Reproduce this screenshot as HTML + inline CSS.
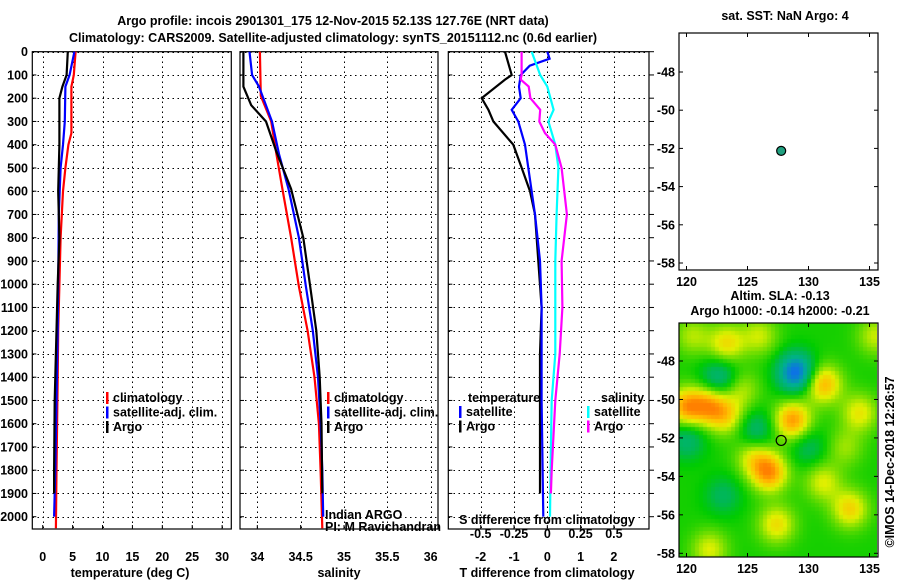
<!DOCTYPE html>
<html><head><meta charset="utf-8"><style>
body{margin:0;background:#fff;width:900px;height:580px;overflow:hidden;font-family:"Liberation Sans",Arial,sans-serif}
svg{position:absolute;left:0;top:0}
text{font-family:"Liberation Sans",Arial,sans-serif;font-weight:bold;font-size:12.5px;fill:#000}
#hm{position:absolute;left:679px;top:323px}
</style></head><body>
<canvas id="hm" width="198" height="234"></canvas>
<svg id="s" width="900" height="580"></svg>
<script>
// ---------- data ----------
const depthTicks=[0,100,200,300,400,500,600,700,800,900,1000,1100,1200,1300,1400,1500,1600,1700,1800,1900,2000];
const tTicks=[0,5,10,15,20,25,30];
const sTicks=[34,34.5,35,35.5,36];
const dTicks=[-2,-1,0,1,2];
const dsTicks=[-0.5,-0.25,0,0.25,0.5];
const tClimD=[0,100,150,300,350,400,500,600,700,800,1000,1200,1400,1600,1800,2050];
const tClimV=[5.5,5.2,4.8,4.8,4.8,4.3,3.8,3.4,3.2,3.0,2.8,2.6,2.5,2.4,2.3,2.2];
const tSatD=[0,100,150,300,400,500,700,1000,1200,1500,1800,2000];
const tSatV=[5.3,4.5,3.8,3.7,3.4,3.0,2.7,2.6,2.5,2.3,2.1,1.9];
const tArgoD=[0,100,150,200,400,600,800,1000,1200,1500,1800,1900];
const tArgoV=[4.2,4.0,3.3,2.8,2.8,2.6,2.8,2.5,2.3,2.0,1.9,1.9];
const sClimD=[0,190,300,440,590,800,1010,1200,1400,1600,1800,2050];
const sClimV=[34.03,34.04,34.16,34.22,34.29,34.39,34.48,34.58,34.66,34.71,34.73,34.75];
const sSatD=[0,100,150,300,440,590,800,1010,1200,1400,1600,1800,2000];
const sSatV=[33.91,33.94,34.02,34.17,34.25,34.36,34.48,34.56,34.64,34.7,34.73,34.75,34.76];
const sArgoD=[0,150,230,300,430,590,800,1010,1200,1400,1600,1900];
const sArgoV=[33.84,33.84,33.93,34.1,34.22,34.39,34.53,34.61,34.68,34.72,34.74,34.75];
const dTArgoD=[0,100,120,200,250,300,400,500,600,700,900,1100,1300,1500,1800,1900];
const dTArgoV=[-1.27,-1.07,-1.27,-1.97,-1.77,-1.62,-1.02,-0.77,-0.52,-0.37,-0.27,-0.17,-0.22,-0.22,-0.22,-0.22];
const dTSatD=[0,30,60,100,150,200,250,300,400,500,700,900,1100,1500,2000];
const dTSatV=[0,0.07,-0.53,-0.8,-0.85,-0.8,-1.07,-0.87,-0.67,-0.57,-0.37,-0.22,-0.17,-0.17,-0.12];
const dSSatD=[0,100,150,250,300,400,500,700,900,1100,1300,1500,1700,2000];
const dSSatV=[-0.117,-0.053,0,0.047,0.008,0.06,0.083,0.07,0.06,0.06,0.06,0.033,0.027,0.02];
const dSArgoD=[0,100,120,150,200,250,300,350,400,500,700,900,1100,1300,1500,1800,1900];
const dSArgoV=[-0.193,-0.193,-0.2,-0.14,-0.127,-0.053,-0.06,-0.017,0.06,0.107,0.147,0.107,0.113,0.093,0.06,0.033,0.027];
const latTicks=[-48,-50,-52,-54,-56,-58];
const lonTicks=[120,125,130,135];
const argoLon=[127.76], argoLat=[-52.13];
const blobLon=[123.3,120,121.9,123.3,129,122.7,128.7,131.2,126.8,125.5,133.4,134.2,135.5,126,120,125.7,127.4,121.9,131.2,120.5,123,130,133,124.5];
const blobLat=[-47.1,-50.4,-50.3,-50.9,-48.6,-48.9,-51.1,-49.2,-53.8,-53,-55.7,-50.7,-46.7,-46.7,-52.1,-51.6,-56.5,-57.8,-54.3,-46.7,-55,-52.5,-52.5,-49.5];
const blobAmp=[0.55,0.8,0.7,0.5,-1.0,-0.5,0.85,0.75,0.85,0.45,0.6,0.5,0.4,0.4,-0.4,-0.4,0.55,0.45,0.45,0.35,-0.3,-0.3,0.3,0.35];
// ---------- helpers ----------
const S=document.getElementById('s');const NS='http://www.w3.org/2000/svg';
function mk(t,a,p){const e=document.createElementNS(NS,t);for(const k in a)e.setAttribute(k,a[k]);(p||S).appendChild(e);return e;}
function txt(x,y,s,anchor,extra){const e=mk('text',Object.assign({x:x,y:y,'text-anchor':anchor||'start'},extra||{}));e.textContent=s;return e;}
const yD=d=>51.7+d*0.2325;
const Y0=51.7,YB=529;
const xT=v=>42.7+v*5.98;
const xS=v=>257.3+(v-34)*86.7;
const xD=v=>547.3+v*33.3;
const xDS=v=>547.3+v*133.2;
const R=v=>Math.round(v)+0.5;
function frame(x0,x1,name){const r=mk('rect',{x:x0,y:Y0,width:x1-x0,height:YB-Y0,fill:'none',stroke:'#000','stroke-width':1.2});}
function grid(x0,x1,xs,fx){depthTicks.forEach(d=>{mk('line',{x1:x0,x2:x1,y1:R(yD(d)),y2:R(yD(d)),stroke:'#000','stroke-dasharray':'1.5,3.5','stroke-width':1,'shape-rendering':'crispEdges'});mk('line',{x1:x0,x2:x0+4,y1:yD(d),y2:yD(d),stroke:'#000'});});
 xs.forEach(v=>{mk('line',{x1:R(fx(v)),x2:R(fx(v)),y1:Y0,y2:YB,stroke:'#000','stroke-dasharray':'1.5,3.5','stroke-width':1,'shape-rendering':'crispEdges'});mk('line',{x1:fx(v),x2:fx(v),y1:YB,y2:YB-4,stroke:'#000'});});}
function prof(D,V,fx,col,name){let p='';for(let i=0;i<D.length;i++){p+=(i?' L':'M')+fx(V[i]).toFixed(1)+','+yD(D[i]).toFixed(1);}
 const e=mk('path',{d:p,fill:'none',stroke:col,'stroke-width':2.2});}
function legend(x,y,items){items.forEach((it,i)=>{mk('rect',{x:x,y:y+i*14.5-10,width:2.5,height:12,fill:it[0]});txt(x+7,y+i*14.5,it[1]);});}
// titles
txt(333,25,'Argo profile: incois 2901301_175 12-Nov-2015 52.13S 127.76E (NRT data)','middle',{'font-size':'14px'});
txt(333,42,'Climatology: CARS2009. Satellite-adjusted climatology: synTS_20151112.nc (0.6d earlier)','middle',{'font-size':'14px'});
// panel 1
grid(32.3,231.3,tTicks,xT);frame(32.3,231.3,'temperature-panel');
depthTicks.forEach(d=>txt(28,yD(d)+4.5,String(d),'end'));
tTicks.forEach(v=>txt(xT(v),561,String(v),'middle'));
txt(130,577,'temperature (deg C)','middle');
prof(tClimD,tClimV,xT,'#f00','temp-climatology-line');prof(tSatD,tSatV,xT,'#00f','temp-satellite-line');prof(tArgoD,tArgoV,xT,'#000','temp-argo-line');
legend(106,402,[['#f00','climatology'],['#00f','satellite-adj. clim.'],['#000','Argo']]);
// panel 2
grid(240,438,sTicks,xS);frame(240,438,'salinity-panel');
sTicks.forEach(v=>txt(xS(v),561,String(v),'middle'));
txt(339,577,'salinity','middle');
prof(sClimD,sClimV,xS,'#f00','sal-climatology-line');prof(sSatD,sSatV,xS,'#00f','sal-satellite-line');prof(sArgoD,sArgoV,xS,'#000','sal-argo-line');
legend(327,402,[['#f00','climatology'],['#00f','satellite-adj. clim.'],['#000','Argo']]);
txt(325,519,'Indian ARGO','start',{'font-weight':'normal','font-size':'12px'});
txt(325,531,'PI: M Ravichandran','start',{'font-weight':'normal','font-size':'12px'});
// panel 3
grid(448.3,649,dTicks,xD);frame(448.3,649,'difference-panel');
depthTicks.forEach(d=>mk('line',{x1:649,x2:654,y1:yD(d),y2:yD(d),stroke:'#000'}));
dTicks.forEach(v=>txt(xD(v),561,String(v),'middle'));
txt(547,577,'T difference from climatology','middle');
prof(dTArgoD,dTArgoV,xD,'#000','t-diff-argo-line');prof(dTSatD,dTSatV,xD,'#00f','t-diff-satellite-line');
prof(dSSatD,dSSatV,xDS,'#0ff','s-diff-satellite-line');prof(dSArgoD,dSArgoV,xDS,'#f0f','s-diff-argo-line');
txt(468,402,'temperature');txt(601,402,'salinity');
legend(459,416,[['#00f','satellite'],['#000','Argo']]);
legend(587,416,[['#0ff','satellite'],['#f0f','Argo']]);
txt(547,524,'S difference from climatology','middle');
dsTicks.forEach(v=>txt(xDS(v),538,String(v),'middle'));
// maps
const mLon=v=>686.5+(v-120)*12.2;
function mapAxes(y0,y1,latF,name){const r=mk('rect',{x:679,y:y0,width:199,height:y1-y0,fill:'none',stroke:'#000','stroke-width':1.2});
 latTicks.forEach(l=>{const y=latF(l);mk('line',{x1:679,x2:683,y1:y,y2:y,stroke:'#000'});mk('line',{x1:874,x2:878,y1:y,y2:y,stroke:'#000'});txt(675,y+4.5,String(l),'end');});
 lonTicks.forEach(l=>{const x=mLon(l);mk('line',{x1:x,x2:x,y1:y1,y2:y1-4,stroke:'#000'});mk('line',{x1:x,x2:x,y1:y0,y2:y0+4,stroke:'#000'});txt(x,y1+16,String(l),'middle');});}
const lat1=l=>72+(-48-l)*19.1;
mapAxes(33,270,lat1,'sst-map');
txt(785,20,'sat. SST: NaN Argo: 4','middle');
const c1=mk('circle',{cx:mLon(argoLon[0]),cy:lat1(argoLat[0]),r:4.5,fill:'#20a080',stroke:'#000','stroke-width':1.2});

const lat2=l=>361+(-48-l)*19.23;
mapAxes(323,557,lat2,'sla-map');
txt(780,300,'Altim. SLA: -0.13','middle');
txt(780,315,'Argo h1000: -0.14 h2000: -0.21','middle');
const c2=mk('circle',{cx:mLon(argoLon[0]),cy:lat2(argoLat[0]),r:5,fill:'none',stroke:'#000','stroke-width':1.2});

const cr=txt(0,0,'©IMOS 14-Dec-2018 12:26:57','middle',{'font-weight':'normal','font-size':'12px',transform:'translate(894,462) rotate(-90)'});

// heatmap
const cv=document.getElementById('hm').getContext('2d');
const stops=[[-1,[16,96,255]],[-0.5,[0,176,144]],[-0.2,[0,184,80]],[0,[0,204,0]],[0.3,[128,224,0]],[0.5,[224,240,0]],[0.75,[255,192,0]],[1,[255,128,0]]];
function cmap(v){v=Math.max(-1,Math.min(1,v));for(let i=1;i<stops.length;i++){if(v<=stops[i][0]){const a=stops[i-1],b=stops[i],t=(v-a[0])/(b[0]-a[0]);return 'rgb('+a[1].map((c,k)=>Math.round(c+(b[1][k]-c)*t)).join(',')+')';}}return 'rgb(255,128,0)';}
for(let py=0;py<234;py+=4){for(let px=0;px<198;px+=4){const lon=120+(679+px+2-686.5)/12.2,lat=-48-(323+py+2-361)/19.23;let v=0.05;
 for(let i=0;i<blobLon.length;i++){const dx=(lon-blobLon[i])/1.5,dy=(lat-blobLat[i])/1.0;v+=blobAmp[i]*Math.exp(-(dx*dx+dy*dy));}
 cv.fillStyle=cmap(v);cv.fillRect(px,py,4,4);}}
</script></body></html>
